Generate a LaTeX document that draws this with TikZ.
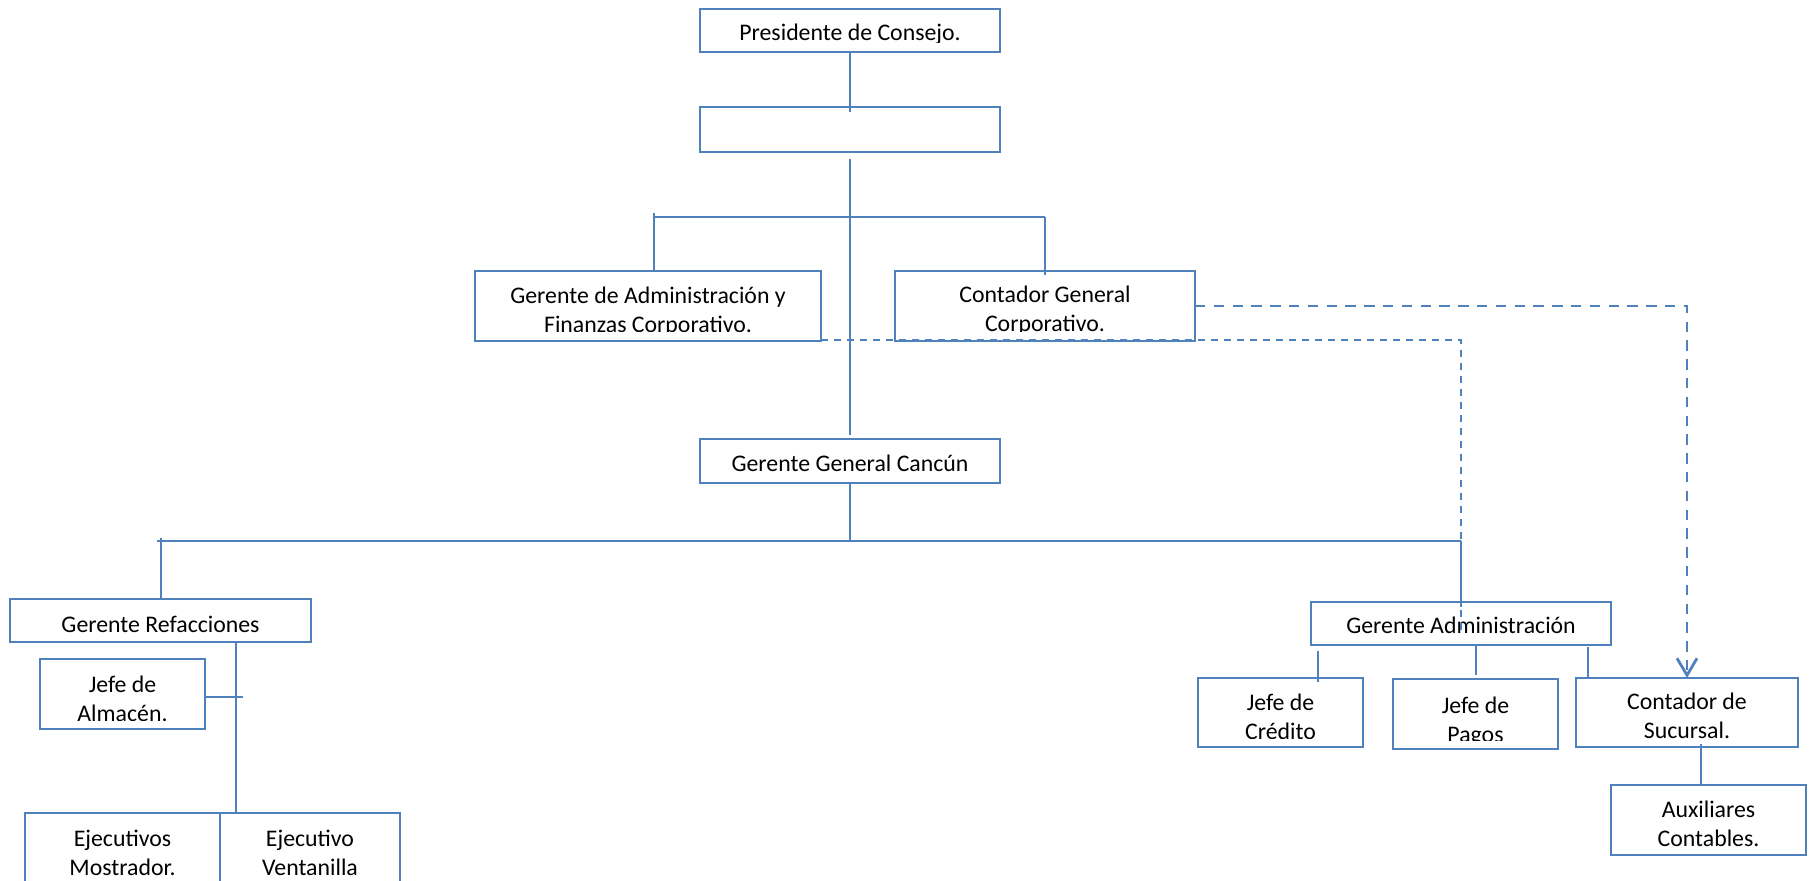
\documentclass[tikz,border=0pt]{standalone}
\usepackage{fontspec}
\setmainfont{Carlito}
\usetikzlibrary{fit,arrows.meta}
\definecolor{orgblue}{HTML}{4F81BD}
\newcommand\orgfont{\fontsize{11.9pt}{14.5pt}\selectfont}
\newcommand\orglines[1]{\begin{tabular}[t]{@{}c@{}}#1\end{tabular}}
\tikzset{
  orgbox/.style={draw=orgblue, line width=1.1pt, inner sep=0pt, outer sep=0pt},
  conn/.style={draw=orgblue, line width=1pt},
  dotlink/.style={draw=orgblue, line width=1pt, dash pattern=on 3.4pt off 3.1pt},
  dashlink/.style={draw=orgblue, line width=1.4pt, dash pattern=on 5.2pt off 4.2pt},
  lbl/.style={inner sep=0pt, outer sep=0pt, anchor=base, text=black, font=\orgfont},
}
% \orgunit{name}{x1}{y1}{x2}{y2}{first baseline}{text}
% the text is cut off a little above the lower edge of its box
\newcommand\orgunit[7]{%
  \node[orgbox, fit={(#2,#3) (#4,#5)}] (#1) {};
  \begin{scope}
    \clip (#2,#3) rectangle (#4,{#5-9});
    \coordinate (#1-base) at (0,#6);
    \node[lbl] (#1-text) at (#1.center |- #1-base) {\orglines{#7}};
  \end{scope}}
\begin{document}
\begin{tikzpicture}[x=0.5pt, y=-0.5pt]
\useasboundingbox (0,0) rectangle (1813,881);
\clip (0,0) rectangle (1813,881);

% boxes
\orgunit{pres}{700}{9}{1000}{52}{41}{Presidente de Consejo.}
\node[orgbox, fit={(700,107) (1000,152)}] (blank) {};
\orgunit{gaf}{475}{271}{821}{341}{304}{Gerente de Administración y\\Finanzas Corporativo.}
\orgunit{cgc}{895}{271}{1195}{341}{303}{Contador General\\Corporativo.}
\orgunit{ggc}{700}{439}{1000}{483}{472}{Gerente General Cancún}
\orgunit{gref}{10}{599}{311}{642}{632}{Gerente Refacciones}
\orgunit{jalm}{40}{659}{205}{729}{692}{Jefe de\\Almacén.}
\orgunit{ejm}{25}{813}{220}{884}{846}{Ejecutivos\\Mostrador.}
\orgunit{ejv}{220}{813}{400}{884}{846}{Ejecutivo\\Ventanilla}
\orgunit{ga}{1311}{602}{1611}{645}{633}{Gerente Administración}
\orgunit{jcr}{1198}{678}{1363}{747}{710}{Jefe de\\Crédito}
\orgunit{jpa}{1393}{679}{1558}{749}{713}{Jefe de\\Pagos}
\orgunit{cds}{1576}{678}{1798}{747}{709}{Contador de\\Sucursal.}
\orgunit{aux}{1611}{785}{1806}{855}{817}{Auxiliares\\Contables.}

% helper points for the branch lines
\coordinate (busA) at (0,217);
\coordinate (busB) at (0,540.5);
\coordinate (gafstem) at (654,0);
\coordinate (grefstem) at (235.7,0);
\coordinate (jcrstem) at (1318,0);
\coordinate (cdsstem) at (1588,0);
\coordinate (auxstem) at (1700.7,0);

% top of the chart
\draw[conn] (pres.south) -- ([yshift=-2.5pt]blank.north);
\draw[conn] ([yshift=-3.5pt]blank.south) -- ([yshift=2pt]ggc.north);
\draw[conn] (gafstem |- busA) -- (cgc.north |- busA);
\draw[conn] ([yshift=2pt]gafstem |- busA) -- (gafstem |- gaf.north);
\draw[conn] (cgc.north |- busA) -- ([yshift=-2pt]cgc.north);

% branch under Gerente General
\draw[conn] (ggc.south) -- (ggc.south |- busB);
\draw[conn] ([xshift=-1.8pt]gref.north |- busB) -- (ga.north |- busB);
\draw[conn] ([yshift=1.5pt]gref.north |- busB) -- (gref.north);
\draw[conn] (ga.north |- busB) -- ([yshift=-2.5pt]ga.north);

% Refacciones
\draw[conn] (grefstem |- gref.south) -- (grefstem |- ejm.north);
\draw[conn] ([yshift=-1.5pt]jalm.east) -- ([xshift=3.5pt,yshift=-1.5pt]jalm.east -| grefstem);

% Administracion
\draw[conn] ([yshift=-3pt]jcrstem |- ga.south) -- ([yshift=-2pt]jcrstem |- jcr.north);
\draw[conn] (jpa.north |- ga.south) -- ([yshift=2pt]jpa.north);
\draw[conn] ([yshift=-1pt]cdsstem |- ga.south) -- (cdsstem |- cds.north);
\draw[conn] ([yshift=1.5pt]auxstem |- cds.south) -- (auxstem |- aux.north);

% staff links
\draw[dotlink] ([yshift=0.5pt]gaf.south east) -- ([yshift=0.5pt]gaf.south east -| ga.north) -- ([yshift=-5pt]ga.center);
\draw[dashlink, -{Straight Barb[length=8.5pt, width=10pt]}] (cgc.east) -- (cgc.east -| cds.north) -- (cds.north);
\end{tikzpicture}
\end{document}
